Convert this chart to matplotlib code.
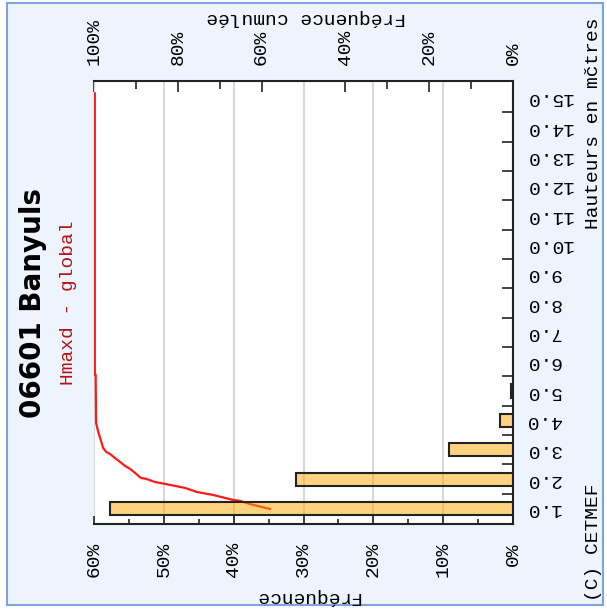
import matplotlib
matplotlib.use('Agg')
import matplotlib.pyplot as plt
from matplotlib.patches import Rectangle

# ---- data ----
heights = [1.0, 2.0, 3.0, 4.0, 5.0]
freq_pct = [57.7, 31.1, 9.1, 1.8, 0.3]

cum_heights = [15.15, 5.56, 5.56, 3.92, 3.61, 3.34, 3.06, 2.93, 2.86, 2.72, 2.59,
               2.45, 2.35, 2.21, 2.04, 2.01, 1.90, 1.84, 1.77, 1.70, 1.56, 1.46,
               1.29, 1.26, 1.15, 1.09, 0.98]
cum_pct = [99.8, 99.8, 99.6, 99.5, 99.0, 98.4, 97.8, 97.1, 96.2, 95.0, 93.8,
           92.6, 91.4, 90.2, 88.8, 87.6, 85.4, 83.1, 80.7, 78.3, 75.4, 71.6,
           66.8, 65.2, 62.8, 61.1, 58.0]

height_ticks = [1.0, 2.0, 3.0, 4.0, 5.0, 6.0, 7.0, 8.0, 9.0, 10.0, 11.0, 12.0, 13.0, 14.0, 15.0]
height_labels = ['1.0', '2.0', '3.0', '4.0', '5.0', '6.0', '7.0', '8.0', '9.0', '10.0',
                 '11.0', '12.0', '13.0', '14.0', '15.0']
freq_ticks = [0, 10, 20, 30, 40, 50, 60]
freq_labels = ['0%', '10%', '20%', '30%', '40%', '50%', '60%']
freq_minor = [5, 15, 25, 35, 45, 55]
cum_ticks = [0, 20, 40, 60, 80, 100]
cum_labels = ['0%', '20%', '40%', '60%', '80%', '100%']
cum_minor = [10, 30, 50, 70, 90]

MONO = 'Liberation Mono'
FS = 14
W, H = 607, 609

fig = plt.figure(figsize=(W / 100, H / 100), dpi=100)
fig.patch.set_facecolor('white')
fig.add_artist(Rectangle((7 / W, 1 - 605 / H), 596 / W, 602 / H, transform=fig.transFigure,
                         facecolor='#EEF4FD', edgecolor='#7DA3E3', linewidth=1.5, zorder=-5))

ax = fig.add_axes([94 / W, 1 - 524 / H, 419 / W, 443 / H])
ax2 = ax.twiny()
ax.set_zorder(2)
ax2.set_zorder(1)
ax.patch.set_visible(False)
ax2.patch.set_visible(True)
ax2.patch.set_facecolor('white')

ax.set_xlim(60, 0)
ax.set_ylim(0.47, 15.57)
ax2.set_xlim(100, 0)

ax.barh(heights, freq_pct, height=0.45, color=(1.0, 0.65, 0.0, 0.5),
        edgecolor='#222222', linewidth=1.5, zorder=3)
# cumulative curve: data in the top-axis (cumulative) scale, drawn between grid and bars
ax.plot(cum_pct, cum_heights, color='#ff1a1a', lw=1.6, zorder=2,
        transform=ax2.transData, clip_on=True)
ax.set_xlim(60, 0)
ax.set_ylim(0.47, 15.57)

# bottom axis (Fréquence)
ax.set_xticks(freq_ticks)
ax.set_xticklabels(freq_labels, rotation=90, fontfamily=MONO, fontsize=FS)
ax.set_xticks(freq_minor, minor=True)
ax.tick_params(axis='x', which='major', direction='in', length=5.5, width=1.2, pad=13,
               bottom=True, top=False, colors='#222222', labelcolor='black')
ax.tick_params(axis='x', which='minor', direction='in', length=3.5, width=1.2,
               bottom=True, top=False, colors='#222222')
ax.xaxis.grid(True, which='major', color='#d9d9d9', lw=1.5)
ax.set_axisbelow(True)

# right axis (heights)
ax.yaxis.tick_right()
ax.set_yticks(height_ticks)
ax.set_yticklabels(height_labels, rotation=180, fontfamily=MONO, fontsize=FS)
ax.set_yticks([h + 0.5 for h in height_ticks[:-1]], minor=True)
ax.tick_params(axis='y', which='major', length=0, pad=9, right=True, left=False,
               labelright=True, labelleft=False)
ax.tick_params(axis='y', which='minor', direction='in', length=8, width=1.2,
               right=True, left=False, colors='#222222')
for lbl in ax.get_yticklabels():
    lbl.set_va('center')

# top axis (Fréquence cumulée)
ax2.set_xticks(cum_ticks)
ax2.set_xticklabels(cum_labels, rotation=90, fontfamily=MONO, fontsize=FS)
ax2.set_xticks(cum_minor, minor=True)
ax2.tick_params(axis='x', which='major', direction='in', length=8, width=1.2, pad=11.5,
                top=True, bottom=False, colors='#222222', labelcolor='black')
ax2.tick_params(axis='x', which='minor', direction='in', length=5.5, width=1.2,
                top=True, bottom=False, colors='#222222')

for s in ax2.spines.values():
    s.set_visible(False)
ax.spines['left'].set_visible(False)
for k in ('right', 'top', 'bottom'):
    ax.spines[k].set_color('#222222')
    ax.spines[k].set_linewidth(1.5)

# texts
fig.text(0.055, 0.503, '06601 Banyuls', rotation=90, fontsize=20, fontweight='bold',
         family='DejaVu Sans', ha='center', va='center')
fig.text(0.113, 0.503, 'Hmaxd - global', rotation=90, color='#b41414', family=MONO,
         fontsize=FS, ha='center', va='center')
fig.text(0.504, 0.972, 'Fréquence cumulée', rotation=180, family=MONO, fontsize=FS,
         ha='center', va='center')
fig.text(0.506, 0.021, 'Fréquence', rotation=180, family=MONO, fontsize=FS,
         ha='center', va='center')
fig.text(0.977, 0.797, 'Hauteurs en mčtres', rotation=90, family=MONO, fontsize=FS,
         ha='center', va='center')
fig.text(0.977, 0.110, '(C) CETMEF', rotation=90, family=MONO, fontsize=FS,
         ha='center', va='center')

fig.savefig('out.png', dpi=100)
